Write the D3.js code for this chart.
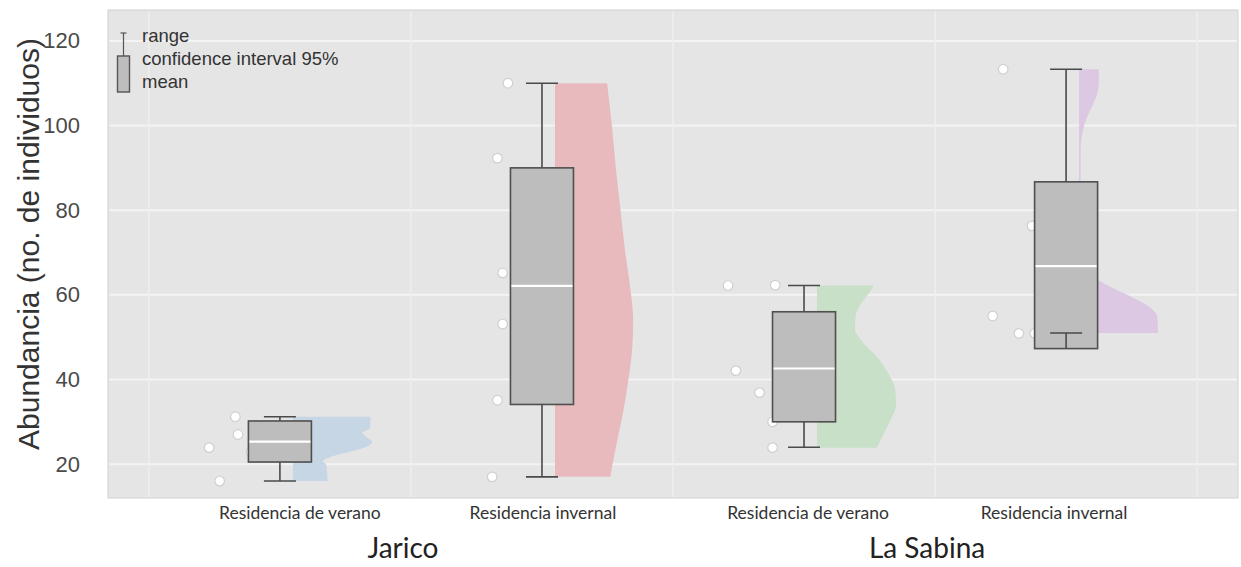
<!DOCTYPE html>
<html><head><meta charset="utf-8">
<script src="https://cdn.jsdelivr.net/npm/d3@7"></script>
<style>
html,body{margin:0;padding:0;background:#fff;}
svg{display:block;}
</style></head>
<body>
<svg id="chart" width="1241" height="567"></svg>
<script>
// ---------- data ----------
const sites = ["Jarico", "La Sabina"];
const categories = ["Residencia de verano", "Residencia invernal", "Residencia de verano", "Residencia invernal"];
const catSite = [0, 0, 1, 1];
const rangeMin = [16, 17, 24, 51];
const rangeMax = [31.2, 110, 62.2, 113.3];
const ciLow = [20.5, 34.1, 30, 47.3];
const ciHigh = [30.2, 90, 56, 86.7];
const means = [25.3, 62.1, 42.6, 66.8];
const observations = [
  [31.2, 27, 23.9, 22.8, 16],
  [110, 92.3, 65.2, 53.1, 35.1, 17],
  [62.2, 62.3, 42.1, 36.9, 30, 23.9],
  [113.3, 76.3, 55, 50.9, 50.9]
];
// horizontal jitter of the observation dots, in category steps
const jitter = [
  [-0.17, -0.16, -0.27, -0.11, -0.23],
  [-0.13, -0.17, -0.15, -0.15, -0.17, -0.19],
  [-0.29, -0.11, -0.26, -0.17, -0.12, -0.12],
  [-0.24, -0.13, -0.28, -0.18, -0.12]
];
// half-violin profiles: [value, relative density]
const densities = [
  [[16,0.44],[20.0,0.42],[20.6,0.38],[24.5,0.97],[25.2,1.0],[27.4,0.88],[28.6,0.98],[31.2,0.98]],
  [[17,0.70],[24,0.77],[31,0.85],[40,0.93],[48,0.98],[54,0.99],[62,0.95],[70,0.89],[80,0.83],[90,0.77],[100,0.72],[110,0.66]],
  [[23.9,0.76],[27,0.84],[30.5,0.93],[34,1.0],[37.5,0.99],[41.5,0.9],[45.5,0.75],[49,0.57],[52,0.48],[55,0.49],[58,0.56],[60.2,0.65],[62.2,0.72]],
  [[51,1.0],[54.8,0.99],[63.5,0.24],[66,0.03],[70,0.03],[80,0.02],[95,0.02],[99,0.05],[110,0.25],[113.3,0.25]]
];
const violinColors = ["#c6d6e4", "#e8b9bd", "#c8dfc8", "#dcc8e2"];
const yTicks = [20, 40, 60, 80, 100, 120];
const legendLabels = ["range", "confidence interval 95%", "mean"];
const yTitle = "Abundancia (no. de individuos)";
const labelNudge = [20, 1, 4, -12];

// ---------- layout ----------
const svg = d3.select("#chart");
const P = {left:108, right:1238, top:10, bottom:498};

const x = d3.scalePoint().domain(d3.range(categories.length)).range([P.left, P.right]).padding(0.656);
const step = x.step();
const y = d3.scaleLinear().domain([12, 127.3]).range([P.bottom, P.top]);
const wScale = d3.scaleLinear().domain([0, 1]).range([0, 79]);

const boxHalf = 31.5, capHalf = 16, violinOffset = 13;

// panel
svg.append("rect").attr("x", P.left).attr("y", P.top)
  .attr("width", P.right - P.left).attr("height", P.bottom - P.top)
  .attr("fill", "#e5e5e5").attr("stroke", "#d2d2d2").attr("stroke-width", 1);

// grid
const grid = svg.append("g");
grid.selectAll("line.h").data(yTicks).join("line")
  .attr("x1", P.left + 1).attr("x2", P.right - 1)
  .attr("y1", d => y(d)).attr("y2", d => y(d))
  .attr("stroke", "#f3f3f3").attr("stroke-width", 2);
const vgrid = d3.range(categories.length + 1).map(i => i - 0.5);
grid.selectAll("line.v").data(vgrid).join("line")
  .attr("x1", d => x(0) + d * step).attr("x2", d => x(0) + d * step)
  .attr("y1", P.top + 1).attr("y2", P.bottom - 1)
  .attr("stroke", "#eeeeee").attr("stroke-width", 1.6);

// y axis
const yAxis = svg.append("g").attr("transform", `translate(${P.left},0)`)
  .call(d3.axisLeft(y).tickValues(yTicks).tickSize(0).tickPadding(28));
yAxis.select(".domain").remove();
yAxis.selectAll("text").attr("font-family", "Liberation Sans, Arial, sans-serif")
  .attr("font-size", 22).attr("fill", "#4a4a4a");

svg.append("text").attr("transform", `translate(38.5,${(P.top + P.bottom) / 2 - 10}) rotate(-90)`)
  .attr("text-anchor", "middle").attr("font-family", "Liberation Sans, Arial, sans-serif")
  .attr("font-size", 30).attr("fill", "#333").text(yTitle);

// violins
const area = d3.area().curve(d3.curveMonotoneY)
  .y(d => y(d[0]));
densities.forEach((dens, i) => {
  const base = x(i) + violinOffset;
  svg.append("path").datum(dens)
    .attr("d", area.x0(base).x1(d => base + wScale(d[1])))
    .attr("fill", violinColors[i]);
});

// observations
observations.forEach((vals, i) => {
  svg.append("g").selectAll("circle").data(vals).join("circle")
    .attr("cx", (d, j) => x(i) + jitter[i][j] * step)
    .attr("cy", d => y(d)).attr("r", 4.8)
    .attr("fill", "#ffffff").attr("stroke", "#cfcfcf").attr("stroke-width", 1.2);
});

// boxes
categories.forEach((c, i) => {
  const g = svg.append("g");
  const cx = x(i);
  g.append("line").attr("x1", cx).attr("x2", cx).attr("y1", y(rangeMax[i])).attr("y2", y(rangeMin[i]))
    .attr("stroke", "#4a4a4a").attr("stroke-width", 1.6);
  [rangeMax[i], rangeMin[i]].forEach(v => {
    g.append("line").attr("x1", cx - capHalf).attr("x2", cx + capHalf).attr("y1", y(v)).attr("y2", y(v))
      .attr("stroke", "#4a4a4a").attr("stroke-width", 1.6);
  });
  g.append("rect").attr("x", cx - boxHalf).attr("width", boxHalf * 2)
    .attr("y", y(ciHigh[i])).attr("height", y(ciLow[i]) - y(ciHigh[i]))
    .attr("fill", "#bdbdbd").attr("stroke", "#4f4f4f").attr("stroke-width", 1.6);
  if (rangeMin[i] > ciLow[i]) {
    g.append("line").attr("x1", cx).attr("x2", cx).attr("y1", y(rangeMin[i])).attr("y2", y(ciLow[i]))
      .attr("stroke", "#4a4a4a").attr("stroke-width", 1.6);
    g.append("line").attr("x1", cx - capHalf).attr("x2", cx + capHalf).attr("y1", y(rangeMin[i])).attr("y2", y(rangeMin[i]))
      .attr("stroke", "#4a4a4a").attr("stroke-width", 1.6);
  }
  g.append("line").attr("x1", cx - boxHalf + 1).attr("x2", cx + boxHalf - 1)
    .attr("y1", y(means[i])).attr("y2", y(means[i]))
    .attr("stroke", "#ffffff").attr("stroke-width", 2.2);
});

// x labels
svg.append("g").selectAll("text").data(categories).join("text")
  .attr("x", (d, i) => x(i) + labelNudge[i]).attr("y", 519)
  .attr("text-anchor", "middle").attr("font-family", "Lato, Open Sans, sans-serif")
  .attr("font-size", 17.5).attr("fill", "#333").text(d => d);

svg.append("g").selectAll("text").data(sites).join("text")
  .attr("x", (d, s) => {
    const idx = catSite.map((v, k) => v === s ? k : -1).filter(k => k >= 0);
    return (x(idx[0]) + x(idx[idx.length - 1])) / 2 - 8;
  })
  .attr("y", 558).attr("text-anchor", "middle").attr("font-family", "Lato, Open Sans, sans-serif")
  .attr("font-size", 28).attr("fill", "#222").text(d => d);

// legend
const L = svg.append("g");
const lx = 123.5;
L.append("line").attr("x1", lx).attr("x2", lx).attr("y1", 33).attr("y2", 56).attr("stroke", "#555").attr("stroke-width", 1.2);
L.append("line").attr("x1", lx - 3).attr("x2", lx + 3).attr("y1", 33).attr("y2", 33).attr("stroke", "#555").attr("stroke-width", 1.2);
L.append("rect").attr("x", lx - 6).attr("y", 56).attr("width", 12).attr("height", 36)
  .attr("fill", "#bdbdbd").attr("stroke", "#555").attr("stroke-width", 1.4);
L.selectAll("text").data(legendLabels).join("text")
  .attr("x", 142).attr("y", (d, i) => 41.5 + i * 23.3)
  .attr("font-family", "Liberation Sans, Arial, sans-serif").attr("font-size", 18.5)
  .attr("fill", "#333").text(d => d);
</script>
</body></html>
